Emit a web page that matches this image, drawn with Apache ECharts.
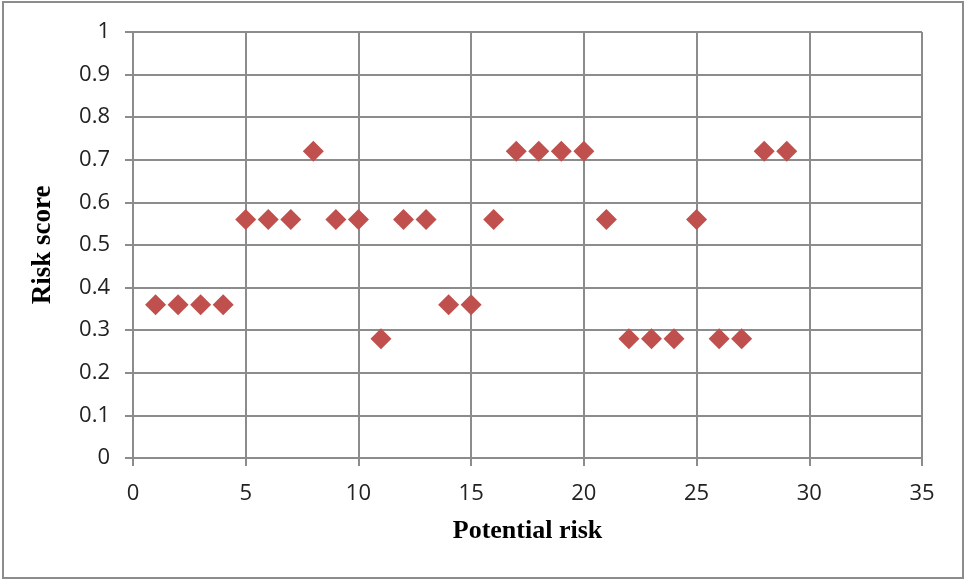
<!DOCTYPE html>
<html>
<head>
<meta charset="utf-8">
<script src="https://cdn.jsdelivr.net/npm/echarts@6/dist/echarts.min.js"></script>
<style>
  html, body { margin: 0; padding: 0; background: #fff; }
  #frame { position: absolute; left: 2px; top: 1px; width: 962px; height: 578px; border: 2px solid #8c8c8c; box-sizing: border-box; }
  #chart { position: absolute; left: 0; top: 0; width: 965px; height: 580px; }
</style>
</head>
<body>
<div id="frame"></div>
<div id="chart"></div>
<script>
// Potential risk index and its risk score
const riskIds = [1, 2, 3, 4, 5, 6, 7, 8, 9, 10, 11, 12, 13, 14, 15, 16, 17, 18, 19, 20, 21, 22, 23, 24, 25, 26, 27, 28, 29];
const riskScores = [0.36, 0.36, 0.36, 0.36, 0.56, 0.56, 0.56, 0.72, 0.56, 0.56, 0.28, 0.56, 0.56, 0.36, 0.36, 0.56, 0.72, 0.72, 0.72, 0.72, 0.56, 0.28, 0.28, 0.28, 0.56, 0.28, 0.28, 0.72, 0.72];
const xTitle = 'Potential risk';
const yTitle = 'Risk score';

const points = riskIds.map((id, i) => [id, riskScores[i]]);
const gridColor = '#8c8c8c';
const labelFont = { fontFamily: 'Open Sans', fontSize: 22, color: '#222' };
const titleFont = { fontFamily: 'Liberation Serif', fontWeight: 'bold', color: '#000' };

const chart = echarts.init(document.getElementById('chart'), null, { renderer: 'canvas' });
chart.setOption({
  animation: false,
  grid: { left: 133, top: 32, width: 789, height: 426, containLabel: false },
  xAxis: {
    type: 'value', min: 0, max: 35, interval: 5,
    name: xTitle, nameLocation: 'middle', nameGap: 60,
    nameTextStyle: Object.assign({ fontSize: 26 }, titleFont),
    axisLine: { show: true, lineStyle: { color: gridColor, width: 2 } },
    axisTick: { show: true, inside: false, length: 8, lineStyle: { color: gridColor, width: 2 } },
    axisLabel: Object.assign({ margin: 25 }, labelFont),
    splitLine: { show: true, lineStyle: { color: gridColor, width: 2 } }
  },
  yAxis: {
    type: 'value', min: 0, max: 1, interval: 0.1,
    name: yTitle, nameLocation: 'middle', nameGap: 76, nameRotate: 90,
    nameTextStyle: Object.assign({ fontSize: 27 }, titleFont),
    axisLine: { show: true, lineStyle: { color: gridColor, width: 2 } },
    axisTick: { show: true, inside: false, length: 8, lineStyle: { color: gridColor, width: 2 } },
    axisLabel: Object.assign({ margin: 23, formatter: v => String(Math.round(v * 10) / 10) }, labelFont),
    splitLine: { show: true, lineStyle: { color: gridColor, width: 2 } }
  },
  series: [{
    type: 'scatter',
    data: points,
    symbol: 'diamond',
    symbolSize: [21, 21],
    itemStyle: { color: '#c0504d', opacity: 1 }
  }]
});
</script>
</body>
</html>
